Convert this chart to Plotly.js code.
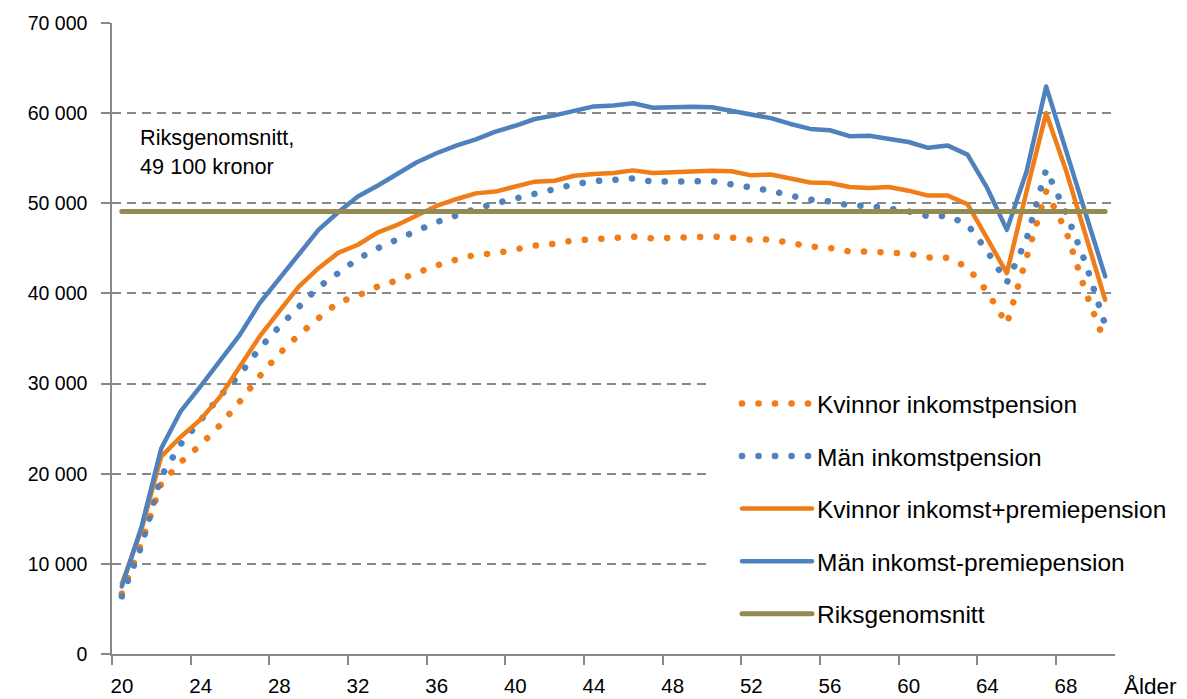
<!DOCTYPE html>
<html><head><meta charset="utf-8">
<script src="https://cdn.plot.ly/plotly-3.0.1.min.js"></script>
<style>
html,body{margin:0;padding:0;background:#fff;}
#chart{width:1187px;height:699px;}
.js-line{stroke-linecap:round !important;stroke-linejoin:round !important;}
</style></head><body><div id="chart"></div>
<script>
const ages = [20,21,22,23,24,25,26,27,28,29,30,31,32,33,34,35,36,37,38,39,40,41,42,43,44,45,46,47,48,49,50,51,52,53,54,55,56,57,58,59,60,61,62,63,64,65,66,67,68,69,70];

const kvinnorInkomst = [6700,12300,18900,21300,23200,25400,28000,30800,33300,35400,37250,39000,39750,40750,41450,42300,43100,43750,44300,44450,44850,45300,45500,45900,46000,46150,46300,46100,46200,46250,46300,46200,45950,46000,45600,45200,45050,44650,44650,44600,44400,44000,43950,42900,40200,36600,43700,51300,47000,40200,34500];

const manInkomst = [6400,12000,19700,23300,25900,28650,31000,33900,36300,38550,40700,42250,43850,45000,45900,46950,47900,48700,49400,50000,50550,51150,51650,52100,52450,52600,52750,52400,52450,52500,52450,52100,51750,51400,50850,50400,50200,49750,49700,49450,49100,48550,48600,47650,44700,41200,46000,53750,49000,43400,36500];

const kvinnorTotal = [7800,13800,21900,24100,26000,28550,31900,35200,38000,40750,42800,44500,45400,46750,47600,48700,49700,50450,51100,51300,51850,52400,52500,53050,53250,53350,53650,53350,53450,53550,53600,53550,53100,53200,52700,52300,52250,51800,51700,51800,51400,50850,50850,49900,46100,42250,51300,60000,53700,46700,39300];

const manTotal = [7500,14100,22800,26950,29700,32600,35400,38900,41650,44450,47050,49000,50750,51950,53250,54550,55550,56400,57100,57950,58600,59350,59750,60300,60750,60850,61100,60600,60700,60700,60650,60250,59900,59450,58800,58250,58100,57450,57500,57200,56800,56150,56400,55400,51700,47050,53500,62950,55950,48900,41900];

const riksgenomsnitt = [49100,49100,49100,49100,49100,49100,49100,49100,49100,49100,49100,49100,49100,49100,49100,49100,49100,49100,49100,49100,49100,49100,49100,49100,49100,49100,49100,49100,49100,49100,49100,49100,49100,49100,49100,49100,49100,49100,49100,49100,49100,49100,49100,49100,49100,49100,49100,49100,49100,49100,49100];

const seriesNames = ['Kvinnor inkomstpension','Män inkomstpension','Kvinnor inkomst+premiepension','Män inkomst-premiepension','Riksgenomsnitt'];
const xTickLabels = ['20','24','28','32','36','40','44','48','52','56','60','64','68'];
const yTickValues = [0,10000,20000,30000,40000,50000,60000,70000];
const yTickLabels = ['0','10 000','20 000','30 000','40 000','50 000','60 000','70 000'];
const noteLine1 = 'Riksgenomsnitt,';
const noteLine2 = '49 100 kronor';
const xAxisLabel = 'Ålder';

const ORANGE = '#F07D18';
const BLUE = '#4F81BD';
const OLIVE = '#948A54';
const GRAY = '#888888';
const FONT = '"Liberation Sans", Arial, sans-serif';
const DOT = '0.1px,16.4px';

const traces = [
  {name: seriesNames[0], x: ages, y: kvinnorInkomst, mode: 'lines', legendgroup: 'g1',
   line: {color: ORANGE, width: 6.5, dash: DOT}},
  {name: seriesNames[1], x: ages, y: manInkomst, mode: 'lines', legendgroup: 'g2',
   line: {color: BLUE, width: 6.5, dash: DOT}},
  {name: seriesNames[2], x: ages, y: kvinnorTotal, mode: 'lines', legendgroup: 'g3',
   line: {color: ORANGE, width: 4.5}},
  {name: seriesNames[3], x: ages, y: manTotal, mode: 'lines', legendgroup: 'g4',
   line: {color: BLUE, width: 4.5}},
  {name: seriesNames[4], x: ages, y: riksgenomsnitt, mode: 'lines', legendgroup: 'g5',
   line: {color: OLIVE, width: 5}}
];

const layout = {
  width: 1187, height: 699,
  margin: {l: 112, r: 72, t: 23, b: 45},
  paper_bgcolor: '#fff', plot_bgcolor: '#fff',
  font: {family: FONT, size: 20, color: '#000'},
  showlegend: true,
  hovermode: false,
  xaxis: {
    range: [19.5, 70.5],
    tickvals: xTickLabels.map(l => Number(l) - 0.5),
    ticktext: xTickLabels,
    ticklabelshift: 10,
    ticks: 'outside', ticklen: 9, tickwidth: 1.5, tickcolor: GRAY,
    showline: true, linecolor: GRAY, linewidth: 1.5,
    showgrid: false, zeroline: false,
    ticklabelstandoff: 4,
    tickfont: {size: 20.5}
  },
  yaxis: {
    range: [0, 70000],
    tickvals: yTickValues, ticktext: yTickLabels,
    ticks: 'outside', ticklen: 9, tickwidth: 1.5, tickcolor: GRAY,
    showline: true, linecolor: GRAY, linewidth: 1.5,
    showgrid: true, gridcolor: GRAY, gridwidth: 1.5, griddash: '9px,6px',
    zeroline: false,
    ticklabelstandoff: 10,
    tickfont: {size: 19.5}
  },
  legend: {
    x: 0.5932, xanchor: 'left', y: 0.4325, yanchor: 'top',
    bgcolor: '#fff', borderwidth: 0,
    font: {size: 24.5, family: FONT},
    traceorder: 'grouped', tracegroupgap: 17.7,
    itemwidth: 70, indentation: 30
  },
  shapes: [
    {type: 'rect', xref: 'paper', yref: 'paper', x0: 0.001, x1: 0.227, y0: 0.735, y1: 0.878,
     fillcolor: '#fff', line: {width: 0}, layer: 'between'}
  ],
  annotations: [
    {xref: 'paper', yref: 'paper', x: 0.0259, y: 0.8193, xanchor: 'left', yanchor: 'middle',
     text: noteLine1, showarrow: false, font: {size: 21.7}},
    {xref: 'paper', yref: 'paper', x: 0.0259, y: 0.7718, xanchor: 'left', yanchor: 'middle',
     text: noteLine2, showarrow: false, font: {size: 21.7}},
    {xref: 'paper', yref: 'paper', x: 1.035, y: -0.0515, xanchor: 'center', yanchor: 'middle',
     text: xAxisLabel, showarrow: false, font: {size: 22.5}, borderpad: 0}
  ]
};

Plotly.newPlot('chart', traces, layout, {displayModeBar: false}).then(gd => {
  gd.querySelectorAll('.legendlines path').forEach(p => p.setAttribute('d', 'M5,0h70'));
});
</script></body></html>
